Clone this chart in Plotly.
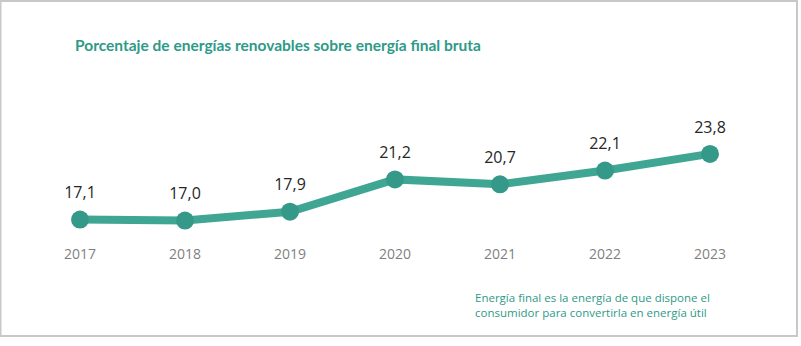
import plotly.graph_objects as go

years = [2017, 2018, 2019, 2020, 2021, 2022, 2023]
values = [17.1, 17.0, 17.9, 21.2, 20.7, 22.1, 23.8]
labels = ["17,1", "17,0", "17,9", "21,2", "20,7", "22,1", "23,8"]
title_text = "Porcentaje de energías renovables sobre energía final bruta"
note_lines = ["Energía final es la energía de que dispone el",
              "consumidor para convertirla en energía útil"]

W, H = 801, 346
ML, MR, MT, MB = 40, 51, 100, 111
PW, PH = W - ML - MR, H - MT - MB

def px_x(px):
    return (px - ML) / PW

def px_y(py):
    return (H - MB - py) / PH

fig = go.Figure()
fig.add_trace(go.Scatter(
    x=years, y=values, mode="lines+markers",
    line=dict(color="#40a694", width=8),
    marker=dict(size=18, color="#35998a"),
    cliponaxis=False, hoverinfo="skip",
))
fig.add_trace(go.Scatter(
    x=years, y=values, mode="markers+text",
    text=labels, textposition="top center",
    textfont=dict(family="Open Sans", size=16, color="#262626"),
    marker=dict(size=26, color="rgba(0,0,0,0)"),
    cliponaxis=False, hoverinfo="skip",
))

fig.update_layout(
    width=W, height=H,
    margin=dict(l=ML, r=MR, t=MT, b=MB),
    paper_bgcolor="white", plot_bgcolor="white",
    showlegend=False,
    xaxis=dict(range=[2016.619, 2023.381], tickvals=years,
               ticktext=[str(y) for y in years],
               showgrid=False, zeroline=False, showline=False,
               ticks="outside", ticklen=6, tickcolor="rgba(0,0,0,0)",
               tickfont=dict(family="Open Sans", size=14, color="#7f7f7f"),
               fixedrange=True),
    yaxis=dict(range=[15.525, 29.30], visible=False, fixedrange=True),
    annotations=[
        dict(text="<b>" + title_text + "</b>", xref="paper", yref="paper",
             x=px_x(73), y=px_y(45), xanchor="left", yanchor="middle",
             showarrow=False,
             font=dict(family="Lato", size=15.5, color="#2e9a88")),
        dict(text="<br>".join(note_lines), xref="paper", yref="paper",
             x=px_x(473), y=px_y(305), xanchor="left", yanchor="middle",
             align="left", showarrow=False,
             font=dict(family="Open Sans", size=11.5, color="#2e9a88")),
    ],
    shapes=[dict(type="rect", xref="paper", yref="paper",
                 x0=px_x(0.5), x1=px_x(797), y0=px_y(336), y1=px_y(1),
                 line=dict(color="#c8c8c8", width=2), layer="below")],
)
fig.write_html("out.html")
